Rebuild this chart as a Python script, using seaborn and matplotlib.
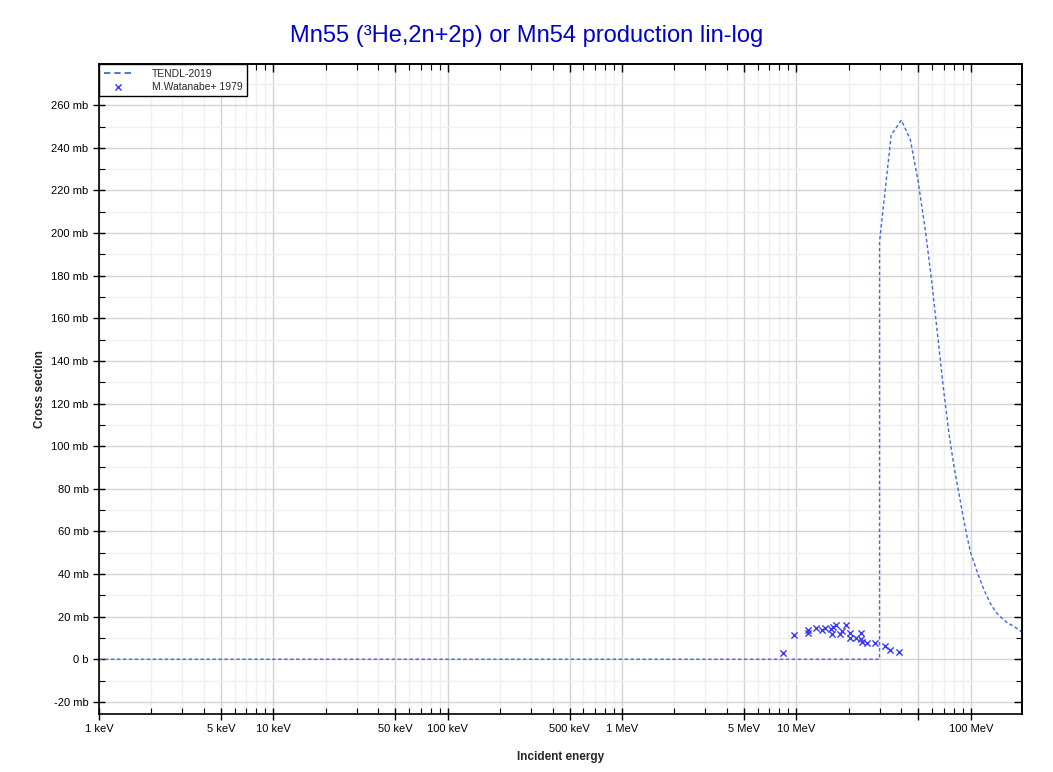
import numpy as np
import pandas as pd
import matplotlib
matplotlib.use("Agg")
import matplotlib.pyplot as plt
import matplotlib.ticker as mticker
import seaborn as sns

# TENDL-2019 evaluation (energy in MeV, cross section in mb)
tendl_energy = [0.001, 29.99, 30, 35, 40, 45, 50, 55, 60, 65, 70, 75, 80, 85, 90,
                95, 100, 110, 120, 130, 140, 150, 160, 180, 200]
tendl_xs = [0, 0, 196, 246, 253, 244, 224, 201, 176, 150, 126, 106, 91, 79, 68,
            58, 50, 40, 32, 26, 22, 19.5, 17.5, 15, 12.3]

# M.Watanabe+ 1979 measurement
exp_energy = [8.4, 9.65, 11.6, 11.6, 13.0, 14.0, 14.6, 15.85, 16.0, 16.3, 16.9, 17.8,
              18.25, 19.15, 20.2, 20.2, 21.95, 23.6, 23.6, 23.8, 25.5, 28.4, 32.2,
              34.4, 39.0]
exp_xs = [2.8, 11.2, 13.7, 12.2, 14.8, 13.7, 14.7, 14.0, 12.0, 15.1, 16.0, 12.0,
          13.1, 16.0, 12.2, 10.1, 10.1, 12.5, 9.7, 8.1, 7.5, 7.6, 6.1, 4.2, 3.4]

x_tick_values = [1e3, 5e3, 1e4, 5e4, 1e5, 5e5, 1e6, 5e6, 1e7, 5e7, 1e8]
x_tick_labels = ["1 keV", "5 keV", "10 keV", "50 keV", "100 keV", "500 keV",
                 "1 MeV", "5 MeV", "10 MeV", "", "100 MeV"]
y_tick_values = list(range(-20, 261, 20))
y_tick_labels = ["-20 mb", "0 b"] + [f"{v} mb" for v in range(20, 261, 20)]

tendl_df = pd.DataFrame({"energy": np.array(tendl_energy) * 1e6, "xs": tendl_xs})
exp_df = pd.DataFrame({"energy": np.array(exp_energy) * 1e6, "xs": exp_xs})

sns.set_style("white")
plt.rcParams["font.family"] = ["Liberation Sans", "DejaVu Sans"]

fig = plt.figure(figsize=(10.53, 7.72), dpi=100)
ax_box = [0.094, 0.0751, 0.8766, 0.8416]
ax = fig.add_axes(ax_box)

sns.lineplot(data=tendl_df, x="energy", y="xs", ax=ax, sort=False, color="#4169e1",
             linewidth=1, dashes=False, label="TENDL-2019")
ax.lines[0].set_dashes((2.5, 1.8))
sns.scatterplot(data=exp_df, x="energy", y="xs", ax=ax, marker="x", color="#3a3aff",
                s=20, linewidth=1, label="M.Watanabe+ 1979", zorder=5)

ax.set_xscale("log")
ax.set_xlim(1e3, 1.97e8)
ax.set_ylim(-25.7, 279.2)

minor_x = [m * 10.0 ** d for d in range(3, 9) for m in (2, 3, 4, 6, 7, 8, 9)]
minor_x = [v for v in minor_x if v < 2e8]
minor_y = list(range(-10, 280, 20))

# ticks (bottom / left cross the spine)
ax.xaxis.set_major_locator(mticker.FixedLocator(x_tick_values))
ax.xaxis.set_major_formatter(mticker.FixedFormatter(x_tick_labels))
ax.xaxis.set_minor_locator(mticker.FixedLocator(minor_x))
ax.xaxis.set_minor_formatter(mticker.NullFormatter())
ax.yaxis.set_major_locator(mticker.FixedLocator(y_tick_values))
ax.yaxis.set_major_formatter(mticker.FixedFormatter(y_tick_labels))
ax.yaxis.set_minor_locator(mticker.FixedLocator(minor_y))

ax.tick_params(which="major", direction="inout", length=8, width=1, labelsize=8,
               bottom=True, left=True, colors="black")
ax.tick_params(which="minor", direction="in", length=4, width=0.8,
               bottom=True, left=True, colors="black")

# top / right ticks point inward only
top = ax.secondary_xaxis("top")
top.xaxis.set_major_locator(mticker.FixedLocator(x_tick_values))
top.xaxis.set_minor_locator(mticker.FixedLocator(minor_x))
top.xaxis.set_major_formatter(mticker.NullFormatter())
top.xaxis.set_minor_formatter(mticker.NullFormatter())
top.tick_params(which="major", direction="in", length=6, width=1, top=True,
                colors="black")
top.tick_params(which="minor", direction="in", length=4, width=0.8, top=True,
                colors="black")
right = ax.secondary_yaxis("right")
right.yaxis.set_major_locator(mticker.FixedLocator(y_tick_values))
right.yaxis.set_minor_locator(mticker.FixedLocator(minor_y))
right.yaxis.set_major_formatter(mticker.NullFormatter())
right.yaxis.set_minor_formatter(mticker.NullFormatter())
right.tick_params(which="major", direction="in", length=6, width=1, right=True,
                  colors="black")
right.tick_params(which="minor", direction="in", length=4, width=0.8, right=True,
                  colors="black")
for sec in (top, right):
    sec.set_zorder(10)
    for sp in sec.spines.values():
        sp.set_color("black")
        sp.set_linewidth(1.2)

ax.grid(True, which="major", color="#d4d4d4", linewidth=1)
ax.grid(True, which="minor", color="#efefef", linewidth=1)
ax.set_axisbelow(True)
for sp in ax.spines.values():
    sp.set_color("black")
    sp.set_linewidth(1.2)

ax.set_xlabel("Incident energy", fontsize=8.5, fontweight="bold", labelpad=12)
ax.set_ylabel("Cross section", fontsize=8.5, fontweight="bold", labelpad=4)
fig.suptitle("Mn55 (³He,2n+2p) or Mn54 production lin-log", fontsize=17,
             color="#0000cc", y=0.968)

# figure-level legend so it sits above the top ticks
handles, labels = ax.get_legend_handles_labels()
ax.get_legend().remove()
leg = fig.legend(handles, labels, loc="upper left",
                 bbox_to_anchor=(ax_box[0], ax_box[1] + ax_box[3]),
                 fontsize=7.5, frameon=True, fancybox=False, borderaxespad=0,
                 handlelength=2.8, borderpad=0.45, labelspacing=0.25,
                 handletextpad=1.8)
leg.get_frame().set_edgecolor("black")
leg.get_frame().set_linewidth(1)
leg.get_frame().set_alpha(1)
leg.get_frame().set_facecolor("white")
leg_line = leg.get_lines()[0]
leg_line.set_dashes((3.5, 2.2))
leg_line.set_linewidth(1.3)

fig.savefig("out.png", dpi=100)
